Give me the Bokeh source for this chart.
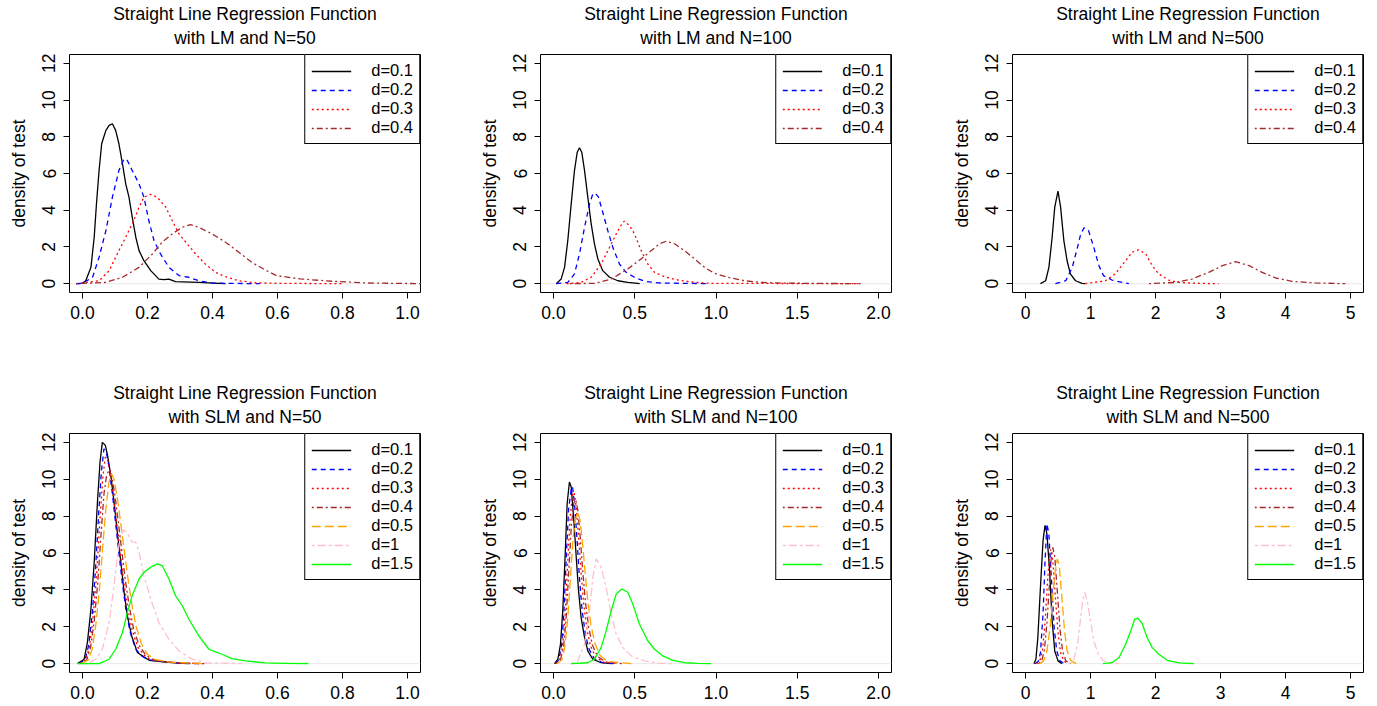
from bokeh.plotting import figure
from bokeh.layouts import column, row
from bokeh.models import Range1d, FixedTicker, Legend, LegendItem, Title, Span
from bokeh.embed import file_html
from bokeh.resources import INLINE

# ---------------- data ----------------
LABELS_LM = ["d=0.1", "d=0.2", "d=0.3", "d=0.4"]
LABELS_SLM = ["d=0.1", "d=0.2", "d=0.3", "d=0.4", "d=0.5", "d=1", "d=1.5"]
XLIM = [1.0, 2.0, 5.0]
XTICKS_1 = [0.0, 0.2, 0.4, 0.6, 0.8, 1.0]
XLABELS_1 = ["0.0", "0.2", "0.4", "0.6", "0.8", "1.0"]
XTICKS_2 = [0.0, 0.5, 1.0, 1.5, 2.0]
XLABELS_2 = ["0.0", "0.5", "1.0", "1.5", "2.0"]
XTICKS_5 = [0, 1, 2, 3, 4, 5]
XLABELS_5 = ["0", "1", "2", "3", "4", "5"]
YTICKS = [0, 2, 4, 6, 8, 10, 12]
YLABELS = ["0", "2", "4", "6", "8", "10", "12"]

# LM, N=50
LM50_D01_X = [-0.016, 0.0, 0.010, 0.026, 0.036, 0.043, 0.051, 0.059, 0.072, 0.082, 0.092, 0.102, 0.112, 0.123, 0.133, 0.143, 0.153, 0.164, 0.174, 0.189, 0.21, 0.235, 0.25, 0.266, 0.286, 0.358, 0.42, 0.44]
LM50_D01_Y = [0, 0.02, 0.16, 0.89, 2.53, 4.35, 6.16, 7.62, 8.35, 8.62, 8.71, 8.35, 7.62, 6.53, 5.44, 4.71, 3.62, 2.53, 1.8, 1.25, 0.71, 0.25, 0.22, 0.25, 0.11, 0.07, 0.02, 0]
LM50_D02_X = [-0.02, 0.0, 0.031, 0.051, 0.072, 0.092, 0.112, 0.128, 0.138, 0.153, 0.174, 0.189, 0.204, 0.22, 0.24, 0.266, 0.297, 0.327, 0.358, 0.399, 0.546]
LM50_D02_Y = [0, 0.02, 0.35, 1.44, 2.89, 4.71, 6.16, 6.8, 6.71, 6.16, 5.44, 4.71, 3.44, 2.35, 1.62, 0.89, 0.44, 0.35, 0.16, 0.03, 0]
LM50_D03_X = [-0.02, 0.051, 0.082, 0.112, 0.133, 0.158, 0.174, 0.189, 0.21, 0.23, 0.256, 0.276, 0.297, 0.322, 0.348, 0.378, 0.409, 0.44, 0.481, 0.532, 0.6, 0.8]
LM50_D03_Y = [0, 0.16, 0.71, 1.8, 2.53, 3.44, 4.17, 4.71, 4.86, 4.71, 4.17, 3.44, 2.71, 2.17, 1.62, 1.07, 0.62, 0.38, 0.16, 0.05, 0.02, 0]
LM50_D04_X = [-0.02, 0.072, 0.123, 0.174, 0.215, 0.245, 0.276, 0.307, 0.332, 0.358, 0.399, 0.44, 0.481, 0.521, 0.562, 0.597, 0.669, 0.77, 0.873, 1.0, 1.1]
LM50_D04_Y = [0, 0.07, 0.35, 0.89, 1.62, 2.26, 2.71, 3.07, 3.22, 3.07, 2.71, 2.26, 1.71, 1.16, 0.75, 0.44, 0.26, 0.13, 0.04, 0.01, 0]

# LM, N=100
LM100_D01_X = [0.017, 0.047, 0.068, 0.088, 0.109, 0.129, 0.146, 0.16, 0.174, 0.191, 0.211, 0.232, 0.252, 0.273, 0.303, 0.345, 0.396, 0.457, 0.519, 0.53]
LM100_D01_Y = [0, 0.25, 0.89, 2.35, 4.35, 6.16, 7.16, 7.4, 7.16, 6.16, 4.71, 3.26, 2.17, 1.35, 0.71, 0.35, 0.16, 0.07, 0.02, 0]
LM100_D02_X = [0.017, 0.088, 0.129, 0.16, 0.191, 0.222, 0.242, 0.257, 0.277, 0.303, 0.334, 0.365, 0.406, 0.447, 0.498, 0.56, 0.642, 0.95]
LM100_D02_Y = [0, 0.07, 0.53, 1.62, 3.07, 4.35, 4.89, 4.93, 4.71, 3.89, 2.89, 1.98, 1.07, 0.62, 0.35, 0.13, 0.04, 0]
LM100_D03_X = [0.08, 0.17, 0.232, 0.293, 0.345, 0.386, 0.427, 0.437, 0.468, 0.498, 0.54, 0.58, 0.622, 0.683, 0.765, 0.868, 0.97, 1.88]
LM100_D03_Y = [0, 0.07, 0.35, 1.07, 1.98, 2.71, 3.35, 3.4, 3.16, 2.71, 1.8, 1.07, 0.62, 0.38, 0.2, 0.07, 0.02, 0]
LM100_D04_X = [0.1, 0.252, 0.355, 0.457, 0.54, 0.601, 0.652, 0.693, 0.745, 0.806, 0.868, 0.929, 0.991, 1.073, 1.175, 1.278, 1.4, 1.89]
LM100_D04_Y = [0, 0.02, 0.25, 0.8, 1.35, 1.8, 2.17, 2.31, 2.17, 1.8, 1.35, 0.89, 0.56, 0.35, 0.16, 0.07, 0.03, 0]

# LM, N=500
LM500_D01_X = [0.23, 0.31, 0.36, 0.41, 0.45, 0.5, 0.54, 0.59, 0.64, 0.69, 0.77, 0.87, 0.92]
LM500_D01_Y = [0, 0.16, 0.89, 2.53, 4.17, 5.04, 4.17, 2.35, 1.25, 0.53, 0.16, 0.02, 0]
LM500_D02_X = [0.46, 0.62, 0.72, 0.8, 0.85, 0.9, 0.97, 1.05, 1.13, 1.2, 1.33, 1.49, 1.59]
LM500_D02_Y = [0, 0.16, 0.89, 1.98, 2.71, 3.04, 2.89, 1.98, 0.98, 0.44, 0.2, 0.07, 0]
LM500_D03_X = [0.92, 1.23, 1.38, 1.54, 1.64, 1.74, 1.85, 1.95, 2.05, 2.2, 2.36, 2.62, 2.97]
LM500_D03_Y = [0, 0.16, 0.53, 1.25, 1.71, 1.84, 1.62, 0.98, 0.53, 0.2, 0.07, 0.02, 0]
LM500_D04_X = [1.9, 2.31, 2.56, 2.82, 3.03, 3.23, 3.44, 3.64, 3.85, 4.1, 4.46, 4.92]
LM500_D04_Y = [0, 0.07, 0.25, 0.62, 0.98, 1.2, 0.98, 0.62, 0.31, 0.13, 0.04, 0]

# SLM, N=50
SLM50_D01_X = [-0.015, 0.005, 0.015, 0.026, 0.036, 0.046, 0.054, 0.061, 0.07, 0.077, 0.087, 0.097, 0.107, 0.118, 0.128, 0.138, 0.151, 0.169, 0.184, 0.205, 0.256, 0.307, 0.33]
SLM50_D01_Y = [0, 0.24, 1.14, 2.96, 5.5, 8.77, 10.94, 12.0, 11.85, 11.3, 10.22, 8.77, 7.13, 5.5, 3.87, 2.6, 1.51, 0.6, 0.42, 0.18, 0.09, 0.02, 0]
SLM50_D02_X = [-0.012, 0.008, 0.019, 0.03, 0.04, 0.05, 0.058, 0.066, 0.074, 0.082, 0.092, 0.102, 0.112, 0.123, 0.134, 0.146, 0.163, 0.18, 0.2, 0.25, 0.3, 0.35]
SLM50_D02_Y = [0, 0.2, 1.0, 2.7, 5.1, 8.2, 10.4, 11.65, 11.4, 10.6, 9.2, 7.6, 6.0, 4.3, 2.9, 1.75, 0.8, 0.45, 0.22, 0.1, 0.03, 0]
SLM50_D03_X = [-0.01, 0.01, 0.021, 0.032, 0.043, 0.053, 0.062, 0.07, 0.078, 0.086, 0.096, 0.106, 0.117, 0.128, 0.14, 0.153, 0.17, 0.19, 0.21, 0.26, 0.32, 0.37]
SLM50_D03_Y = [0, 0.2, 0.9, 2.4, 4.7, 7.6, 10.0, 11.2, 11.0, 10.3, 9.0, 7.5, 5.9, 4.3, 2.9, 1.8, 0.9, 0.45, 0.22, 0.08, 0.02, 0]
SLM50_D04_X = [-0.008, 0.013, 0.025, 0.036, 0.047, 0.057, 0.066, 0.074, 0.082, 0.09, 0.1, 0.11, 0.121, 0.132, 0.144, 0.157, 0.174, 0.195, 0.22, 0.27, 0.33, 0.38]
SLM50_D04_Y = [0, 0.2, 0.9, 2.3, 4.4, 7.0, 9.2, 10.2, 10.5, 10.2, 9.1, 7.7, 6.1, 4.5, 3.1, 1.9, 1.0, 0.45, 0.2, 0.07, 0.02, 0]
SLM50_D05_X = [-0.005, 0.018, 0.03, 0.041, 0.052, 0.062, 0.072, 0.081, 0.089, 0.097, 0.107, 0.117, 0.128, 0.14, 0.152, 0.165, 0.182, 0.2, 0.225, 0.27, 0.33, 0.372]
SLM50_D05_Y = [0, 0.2, 0.8, 2.1, 4.0, 6.3, 8.4, 9.8, 10.3, 10.0, 9.0, 7.7, 6.2, 4.6, 3.2, 2.0, 1.05, 0.5, 0.22, 0.08, 0.03, 0]
SLM50_D10_X = [0.004, 0.02, 0.041, 0.061, 0.082, 0.097, 0.11, 0.118, 0.128, 0.14, 0.152, 0.164, 0.174, 0.189, 0.21, 0.235, 0.266, 0.297, 0.337, 0.378, 0.49]
SLM50_D10_Y = [0, 0.05, 0.24, 0.78, 2.23, 4.23, 6.23, 6.95, 7.26, 7.0, 6.6, 6.59, 6.04, 4.77, 3.5, 2.23, 1.33, 0.69, 0.24, 0.05, 0]
SLM50_D15_X = [-0.015, 0.051, 0.082, 0.102, 0.123, 0.138, 0.153, 0.174, 0.189, 0.21, 0.23, 0.245, 0.266, 0.286, 0.307, 0.327, 0.358, 0.389, 0.409, 0.429, 0.46, 0.501, 0.562, 0.624, 0.695]
SLM50_D15_Y = [0, 0, 0.24, 0.78, 1.69, 2.78, 3.69, 4.59, 4.95, 5.23, 5.41, 5.32, 4.59, 3.69, 3.14, 2.42, 1.51, 0.78, 0.64, 0.51, 0.27, 0.15, 0.04, 0.02, 0]

# SLM, N=100
SLM100_D01_X = [0.006, 0.027, 0.043, 0.057, 0.072, 0.084, 0.098, 0.109, 0.125, 0.14, 0.154, 0.17, 0.191, 0.211, 0.242, 0.293, 0.355]
SLM100_D01_Y = [0, 0.24, 1.05, 2.87, 5.95, 8.68, 9.85, 9.58, 7.77, 5.77, 3.96, 2.5, 1.42, 0.69, 0.24, 0.05, 0]
SLM100_D02_X = [0.01, 0.032, 0.05, 0.064, 0.079, 0.093, 0.108, 0.117, 0.13, 0.145, 0.16, 0.176, 0.196, 0.218, 0.25, 0.3, 0.37]
SLM100_D02_Y = [0, 0.2, 1.0, 2.8, 5.8, 8.4, 9.4, 9.6, 8.6, 6.7, 4.6, 2.9, 1.6, 0.8, 0.28, 0.06, 0]
SLM100_D03_X = [0.015, 0.038, 0.056, 0.071, 0.087, 0.102, 0.116, 0.127, 0.14, 0.155, 0.17, 0.186, 0.205, 0.228, 0.26, 0.31, 0.39]
SLM100_D03_Y = [0, 0.2, 0.9, 2.6, 5.4, 7.9, 9.1, 9.3, 8.5, 6.8, 4.9, 3.2, 1.9, 0.95, 0.35, 0.08, 0]
SLM100_D04_X = [0.02, 0.043, 0.062, 0.078, 0.094, 0.11, 0.125, 0.137, 0.15, 0.165, 0.18, 0.197, 0.216, 0.24, 0.27, 0.32, 0.42]
SLM100_D04_Y = [0, 0.2, 0.9, 2.5, 5.0, 7.5, 8.7, 8.9, 8.3, 6.8, 5.0, 3.3, 2.0, 1.0, 0.4, 0.1, 0]
SLM100_D05_X = [0.02, 0.05, 0.07, 0.087, 0.104, 0.12, 0.136, 0.15, 0.163, 0.178, 0.194, 0.211, 0.23, 0.255, 0.285, 0.33, 0.478]
SLM100_D05_Y = [0, 0.2, 0.9, 2.4, 4.6, 6.8, 7.9, 8.2, 7.8, 6.6, 5.0, 3.4, 2.1, 1.1, 0.45, 0.12, 0]
SLM100_D10_X = [0.109, 0.15, 0.191, 0.222, 0.242, 0.263, 0.293, 0.324, 0.355, 0.386, 0.427, 0.478, 0.56, 0.642, 0.734]
SLM100_D10_Y = [0, 0.15, 1.05, 2.87, 4.68, 5.68, 5.23, 4.14, 2.69, 1.6, 0.87, 0.42, 0.15, 0.02, 0]
SLM100_D15_X = [0.109, 0.211, 0.252, 0.293, 0.324, 0.355, 0.386, 0.421, 0.457, 0.488, 0.529, 0.58, 0.622, 0.673, 0.734, 0.806, 0.888, 0.97]
SLM100_D15_Y = [0, 0.05, 0.24, 0.87, 1.78, 2.87, 3.78, 4.05, 3.87, 3.23, 2.14, 1.24, 0.78, 0.42, 0.18, 0.05, 0.02, 0]

# SLM, N=500
SLM500_D01_X = [0.13, 0.16, 0.19, 0.23, 0.27, 0.3, 0.33, 0.37, 0.41, 0.45, 0.5, 0.56]
SLM500_D01_Y = [0, 0.24, 1.42, 4.14, 6.68, 7.5, 7.04, 5.05, 2.32, 0.69, 0.15, 0]
SLM500_D02_X = [0.15, 0.2, 0.23, 0.27, 0.3, 0.33, 0.36, 0.4, 0.44, 0.48, 0.53, 0.6]
SLM500_D02_Y = [0, 0.15, 0.6, 2.7, 5.5, 7.59, 7.0, 4.5, 2.0, 0.7, 0.15, 0]
SLM500_D03_X = [0.17, 0.22, 0.26, 0.3, 0.34, 0.37, 0.39, 0.42, 0.46, 0.5, 0.54, 0.59, 0.65]
SLM500_D03_Y = [0, 0.15, 0.7, 2.2, 4.5, 5.9, 6.2, 5.6, 3.6, 1.7, 0.6, 0.15, 0]
SLM500_D04_X = [0.2, 0.25, 0.29, 0.33, 0.37, 0.4, 0.42, 0.45, 0.49, 0.53, 0.57, 0.62, 0.7]
SLM500_D04_Y = [0, 0.15, 0.7, 2.2, 4.4, 5.9, 6.3, 5.8, 3.9, 1.9, 0.7, 0.15, 0]
SLM500_D05_X = [0.22, 0.28, 0.33, 0.38, 0.42, 0.46, 0.49, 0.52, 0.56, 0.6, 0.64, 0.69, 0.76, 0.83]
SLM500_D05_Y = [0, 0.15, 0.7, 2.0, 3.7, 5.1, 5.68, 5.3, 3.6, 1.8, 0.7, 0.2, 0.03, 0]
SLM500_D10_X = [0.67, 0.74, 0.8, 0.85, 0.88, 0.91, 0.95, 1.0, 1.05, 1.12, 1.2, 1.33, 1.44]
SLM500_D10_Y = [0, 0.15, 1.05, 2.5, 3.41, 3.87, 3.41, 2.32, 1.24, 0.51, 0.15, 0.02, 0]
SLM500_D15_X = [1.19, 1.33, 1.44, 1.54, 1.62, 1.68, 1.73, 1.8, 1.87, 1.95, 2.05, 2.18, 2.36, 2.59]
SLM500_D15_Y = [0, 0.05, 0.33, 1.05, 1.78, 2.42, 2.47, 2.14, 1.42, 0.87, 0.51, 0.18, 0.04, 0]

# ---------------- styles ----------------
COLORS = ["black", "blue", "red", "brown", "orange", "pink", "#00FF00"]
DASHES = ["solid", "5 4", "2 3", "2 3 6 3", "9 4", "3 3 8 3", "solid"]
FONT = "Liberation Sans"
FS = "17.5px"
LEG_FS = "16.5px"
MAIN_TITLE = "Straight Line Regression Function"

panels = [
    dict(t2="with LM and N=50", xlim=XLIM[0], xt=XTICKS_1, xl=XLABELS_1, labels=LABELS_LM,
         curves=[(LM50_D01_X, LM50_D01_Y), (LM50_D02_X, LM50_D02_Y), (LM50_D03_X, LM50_D03_Y), (LM50_D04_X, LM50_D04_Y)]),
    dict(t2="with LM and N=100", xlim=XLIM[1], xt=XTICKS_2, xl=XLABELS_2, labels=LABELS_LM,
         curves=[(LM100_D01_X, LM100_D01_Y), (LM100_D02_X, LM100_D02_Y), (LM100_D03_X, LM100_D03_Y), (LM100_D04_X, LM100_D04_Y)]),
    dict(t2="with LM and N=500", xlim=XLIM[2], xt=XTICKS_5, xl=XLABELS_5, labels=LABELS_LM,
         curves=[(LM500_D01_X, LM500_D01_Y), (LM500_D02_X, LM500_D02_Y), (LM500_D03_X, LM500_D03_Y), (LM500_D04_X, LM500_D04_Y)]),
    dict(t2="with SLM and N=50", xlim=XLIM[0], xt=XTICKS_1, xl=XLABELS_1, labels=LABELS_SLM,
         curves=[(SLM50_D01_X, SLM50_D01_Y), (SLM50_D02_X, SLM50_D02_Y), (SLM50_D03_X, SLM50_D03_Y), (SLM50_D04_X, SLM50_D04_Y),
                 (SLM50_D05_X, SLM50_D05_Y), (SLM50_D10_X, SLM50_D10_Y), (SLM50_D15_X, SLM50_D15_Y)]),
    dict(t2="with SLM and N=100", xlim=XLIM[1], xt=XTICKS_2, xl=XLABELS_2, labels=LABELS_SLM,
         curves=[(SLM100_D01_X, SLM100_D01_Y), (SLM100_D02_X, SLM100_D02_Y), (SLM100_D03_X, SLM100_D03_Y), (SLM100_D04_X, SLM100_D04_Y),
                 (SLM100_D05_X, SLM100_D05_Y), (SLM100_D10_X, SLM100_D10_Y), (SLM100_D15_X, SLM100_D15_Y)]),
    dict(t2="with SLM and N=500", xlim=XLIM[2], xt=XTICKS_5, xl=XLABELS_5, labels=LABELS_SLM,
         curves=[(SLM500_D01_X, SLM500_D01_Y), (SLM500_D02_X, SLM500_D02_Y), (SLM500_D03_X, SLM500_D03_Y), (SLM500_D04_X, SLM500_D04_Y),
                 (SLM500_D05_X, SLM500_D05_Y), (SLM500_D10_X, SLM500_D10_Y), (SLM500_D15_X, SLM500_D15_Y)]),
]

# layout geometry: per column (width, left border, right border), per row (height, top, bottom)
COLS = [(467, 69, 47), (459, 73, 35), (443, 86, 6)]
ROWS = [(370, 54, 78), (336, 63, 34)]


def make_panel(spec, col, rw):
    w, bl, br = col
    h, bt, bb = rw
    xmax = spec["xlim"]
    p = figure(width=w, height=h, output_backend="svg", toolbar_location=None,
               x_range=Range1d(-0.04 * xmax, 1.04 * xmax), y_range=Range1d(-0.48, 12.48),
               min_border_left=bl, min_border_right=br, min_border_top=bt, min_border_bottom=bb,
               background_fill_color="white", border_fill_color="white")
    p.outline_line_color = "black"
    p.outline_line_width = 1
    p.grid.visible = False
    p.title.visible = False

    sub = Title(text=spec["t2"], align="center", text_font=FONT, text_font_size=FS,
                text_font_style="normal", text_color="black", standoff=9, vertical_align="top")
    main = Title(text=MAIN_TITLE, align="center", text_font=FONT, text_font_size=FS,
                 text_font_style="normal", text_color="black", standoff=0)
    p.add_layout(sub, "above")
    p.add_layout(main, "above")

    p.xaxis.ticker = FixedTicker(ticks=spec["xt"])
    p.xaxis.major_label_overrides = {t_: l for t_, l in zip(spec["xt"], spec["xl"])}
    p.yaxis.ticker = FixedTicker(ticks=YTICKS)
    p.yaxis.major_label_overrides = {t_: l for t_, l in zip(YTICKS, YLABELS)}
    p.yaxis.axis_label = "density of test"
    p.yaxis.major_label_orientation = "parallel"
    for ax in (p.xaxis, p.yaxis):
        ax.axis_line_color = None
        ax.major_tick_in = 0
        ax.major_tick_out = 6
        ax.major_tick_line_color = "black"
        ax.minor_tick_line_color = None
        ax.major_label_text_font = FONT
        ax.major_label_text_font_size = FS
        ax.major_label_text_color = "black"
        ax.axis_label_text_font = FONT
        ax.axis_label_text_font_size = FS
        ax.axis_label_text_font_style = "normal"
        ax.axis_label_text_color = "black"
    p.xaxis.major_label_standoff = 7
    p.yaxis.major_label_standoff = 8
    p.yaxis.axis_label_standoff = 11

    p.add_layout(Span(location=0, dimension="width", line_color="#e8e8e8", line_width=1, level="underlay"))

    items = []
    for (xs, ys), lab, c, d in zip(spec["curves"], spec["labels"], COLORS, DASHES):
        r = p.line(xs, ys, line_color=c, line_dash=d, line_width=1.3)
        items.append(LegendItem(label=lab, renderers=[r]))
    leg = Legend(items=items, location="top_right", margin=0, padding=6, spacing=0,
                 label_height=14, glyph_height=14, glyph_width=40, label_standoff=20,
                 border_line_color="black", border_line_width=1, border_line_alpha=1.0,
                 background_fill_color="white", background_fill_alpha=1.0,
                 label_text_font=FONT, label_text_font_size=LEG_FS, label_text_color="black")
    p.add_layout(leg)
    return p


figs = [make_panel(spec, COLS[i % 3], ROWS[i // 3]) for i, spec in enumerate(panels)]
layout = column(row(*figs[:3]), row(*figs[3:]))

open("out.html", "w").write(file_html(layout, INLINE))
